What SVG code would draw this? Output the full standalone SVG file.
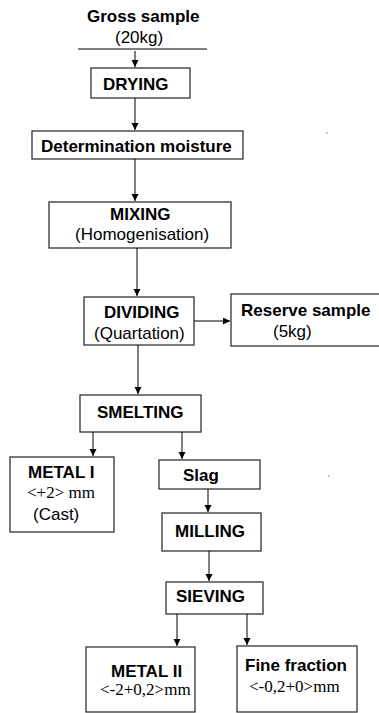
<svg xmlns="http://www.w3.org/2000/svg" width="379" height="713" viewBox="0 0 379 713">
  <style>
    .box { fill: #ffffff; stroke: #333333; stroke-width: 1.3; }
    .b { font-family: "Liberation Sans", Arial, sans-serif; font-weight: bold; font-size: 17px; fill: #000; }
    .r { font-family: "Liberation Sans", Arial, sans-serif; font-size: 17px; fill: #000; }
    .s { font-family: "Liberation Serif", "Times New Roman", serif; font-size: 17px; fill: #000; }
    .c { stroke: #000; stroke-width: 1; fill: none; marker-end: url(#ah); }
  </style>
  <defs>
    <marker id="ah" markerUnits="userSpaceOnUse" markerWidth="8" markerHeight="8" refX="7" refY="3.5" orient="auto">
      <path d="M0,0 L7,3.5 L0,7 Z" fill="#000"/>
    </marker>
  </defs>
  <rect width="379" height="713" fill="#ffffff"/>

  <g id="gross-sample">
    <text class="b" x="87" y="22">Gross sample</text>
    <text class="r" x="115" y="43">(20kg)</text>
    <line x1="78" y1="49" x2="207" y2="49" stroke="#000" stroke-width="1"/>
  </g>

  <g id="drying">
    <rect class="box" x="91" y="68" width="99" height="30"/>
    <text class="b" x="103" y="90">DRYING</text>
  </g>

  <g id="moisture">
    <rect class="box" x="32" y="131" width="211" height="28"/>
    <text class="b" x="41" y="152">Determination moisture</text>
  </g>

  <g id="mixing">
    <rect class="box" x="49" y="202" width="182" height="46"/>
    <text class="b" x="110" y="220">MIXING</text>
    <text class="r" x="75" y="240">(Homogenisation)</text>
  </g>

  <g id="dividing">
    <rect class="box" x="84" y="297" width="110" height="48"/>
    <text class="b" x="104" y="318">DIVIDING</text>
    <text class="r" x="94" y="339">(Quartation)</text>
  </g>

  <g id="reserve-sample">
    <rect class="box" x="231" y="294" width="150" height="52"/>
    <text class="b" x="241" y="316">Reserve sample</text>
    <text class="r" x="273" y="337">(5kg)</text>
  </g>

  <g id="smelting">
    <rect class="box" x="80" y="395" width="121" height="37"/>
    <text class="b" x="97" y="418">SMELTING</text>
  </g>

  <g id="metal-1">
    <rect class="box" x="10" y="457" width="104" height="75"/>
    <text class="b" x="28" y="478">METAL I</text>
    <text class="s" x="27" y="498">&lt;+2&gt; mm</text>
    <text class="r" x="33" y="520">(Cast)</text>
  </g>

  <g id="slag">
    <rect class="box" x="159" y="460" width="101" height="29"/>
    <text class="b" x="183" y="481">Slag</text>
  </g>

  <g id="milling">
    <rect class="box" x="162" y="513" width="99" height="38"/>
    <text class="b" x="175" y="537">MILLING</text>
  </g>

  <g id="sieving">
    <rect class="box" x="166" y="582" width="97" height="32"/>
    <text class="b" x="176" y="602">SIEVING</text>
  </g>

  <g id="metal-2">
    <rect class="box" x="86" y="647" width="109" height="65"/>
    <text class="b" x="111" y="677">METAL II</text>
    <text class="s" x="100" y="695">&lt;-2+0,2&gt;mm</text>
  </g>

  <g id="fine-fraction">
    <rect class="box" x="237" y="646" width="120" height="66"/>
    <text class="b" x="245" y="671">Fine fraction</text>
    <text class="s" x="249" y="692">&lt;-0,2+0&gt;mm</text>
  </g>

  <g id="connectors">
    <line class="c" x1="135" y1="51" x2="135" y2="67"/>
    <line class="c" x1="135" y1="98" x2="135" y2="130"/>
    <line class="c" x1="135" y1="159" x2="135" y2="201"/>
    <line class="c" x1="137" y1="248" x2="137" y2="296"/>
    <line class="c" x1="194" y1="321" x2="230" y2="321"/>
    <line class="c" x1="138" y1="345" x2="138" y2="394"/>
    <line class="c" x1="93" y1="432" x2="93" y2="456"/>
    <line class="c" x1="182" y1="432" x2="182" y2="459"/>
    <line class="c" x1="208" y1="489" x2="208" y2="512"/>
    <line class="c" x1="209" y1="551" x2="209" y2="581"/>
    <line class="c" x1="177" y1="614" x2="177" y2="646"/>
    <line class="c" x1="247" y1="614" x2="247" y2="645"/>
  </g>

  <circle cx="327" cy="133" r="0.7" fill="#666"/>
  <circle cx="329" cy="476" r="0.7" fill="#666"/>
</svg>
